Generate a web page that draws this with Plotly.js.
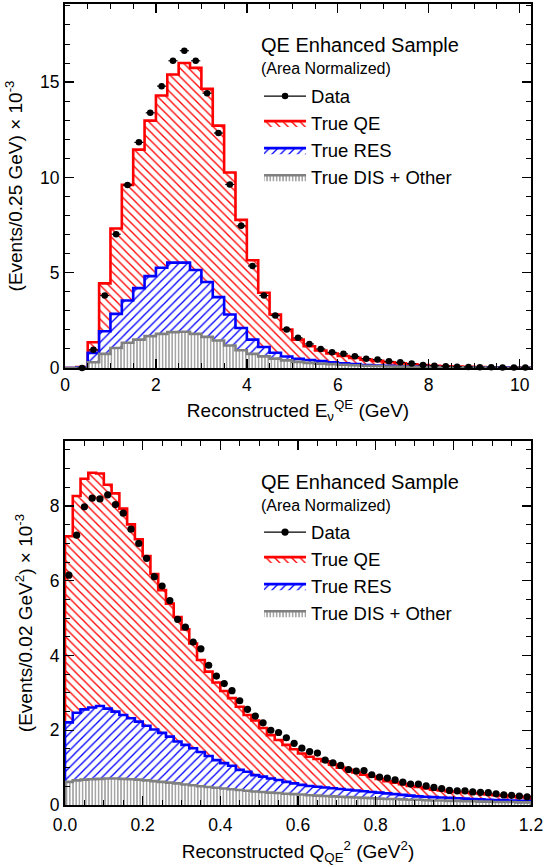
<!DOCTYPE html>
<html><head><meta charset="utf-8">
<script src="https://cdn.plot.ly/plotly-3.0.1.min.js"></script>
<style>html,body{margin:0;padding:0;background:#fff}</style>
</head><body>
<div id="chart" style="width:545px;height:867px"></div>
<script>
// ---------------- Top panel: Reconstructed E_nu^QE, 0.25 GeV bins from 0 ----------------
const enuBinStart = 0;
const enuBinWidth = 0.25;
const enuQE  = [0, 0.05, 1.35, 4.44, 7.32, 9.61, 11.46, 12.98, 14.30, 15.40, 16.00, 15.75, 14.65, 12.72, 10.26, 7.77, 5.65, 3.95, 2.81, 2.02, 1.49, 1.14, 0.92, 0.76, 0.63, 0.53, 0.44, 0.37, 0.30, 0.24, 0.19, 0.15, 0.12, 0.09, 0.07, 0.06, 0.05, 0.04, 0.03, 0.03, 0.02];
const enuRES = [0, 0.03, 0.79, 1.93, 2.84, 3.54, 4.19, 4.82, 5.26, 5.53, 5.53, 5.14, 4.51, 3.72, 2.81, 2.10, 1.49, 1.10, 0.80, 0.60, 0.48, 0.42, 0.36, 0.30, 0.25, 0.20, 0.16, 0.13, 0.11, 0.09, 0.07, 0.06, 0.05, 0.04, 0.035, 0.03, 0.025, 0.02, 0.02, 0.015, 0.01];
const enuDIS = [0, 0.01, 0.30, 0.74, 1.05, 1.32, 1.49, 1.67, 1.79, 1.88, 1.90, 1.79, 1.63, 1.44, 1.18, 0.93, 0.74, 0.61, 0.49, 0.40, 0.32, 0.27, 0.23, 0.20, 0.17, 0.14, 0.12, 0.10, 0.08, 0.07, 0.06, 0.05, 0.04, 0.035, 0.03, 0.025, 0.02, 0.015, 0.012, 0.01, 0.01];
// data points start at the second bin (0.25-0.5 GeV)
const enuDataFirstBin = 1;
const enuData = [0, 0.95, 3.80, 7.02, 9.60, 11.84, 13.39, 14.79, 16.12, 16.65, 16.12, 14.42, 12.33, 9.63, 7.46, 5.35, 3.80, 2.75, 2.02, 1.58, 1.26, 1.00, 0.82, 0.74, 0.61, 0.49, 0.44, 0.35, 0.30, 0.23, 0.16, 0.12, 0.09, 0.07, 0.05, 0.04, 0.04, 0.03, 0.02, 0.02];
const enuXTicks = [0, 2, 4, 6, 8, 10];
const enuYTicks = [0, 5, 10, 15];

// ---------------- Bottom panel: Reconstructed Q^2_QE, 0.02 GeV^2 bins from 0 ----------------
const q2BinStart = 0;
const q2BinWidth = 0.02;
const q2QE  = [7.19, 8.27, 8.73, 8.89, 8.87, 8.57, 8.34, 7.93, 7.51, 7.11, 6.66, 6.18, 5.75, 5.39, 5.03, 4.70, 4.32, 3.88, 3.57, 3.28, 3.05, 2.86, 2.63, 2.41, 2.26, 2.06, 1.87, 1.74, 1.61, 1.49, 1.38, 1.29, 1.23, 1.17, 1.08, 1.00, 0.94, 0.87, 0.81, 0.76, 0.70, 0.64, 0.60, 0.56, 0.51, 0.48, 0.44, 0.41, 0.39, 0.36, 0.35, 0.34, 0.32, 0.31, 0.28, 0.26, 0.25, 0.23, 0.22, 0.21];
const q2RES = [2.21, 2.47, 2.56, 2.61, 2.65, 2.58, 2.50, 2.41, 2.32, 2.23, 2.12, 2.02, 1.93, 1.83, 1.70, 1.61, 1.52, 1.42, 1.31, 1.20, 1.12, 1.05, 0.94, 0.89, 0.80, 0.76, 0.71, 0.67, 0.62, 0.58, 0.54, 0.51, 0.49, 0.47, 0.45, 0.43, 0.41, 0.39, 0.37, 0.35, 0.33, 0.31, 0.29, 0.27, 0.25, 0.23, 0.22, 0.21, 0.20, 0.19, 0.18, 0.17, 0.16, 0.15, 0.14, 0.13, 0.13, 0.12, 0.11, 0.11];
const q2DIS = [0.62, 0.66, 0.68, 0.69, 0.70, 0.71, 0.71, 0.70, 0.69, 0.68, 0.66, 0.64, 0.62, 0.60, 0.58, 0.55, 0.53, 0.50, 0.48, 0.46, 0.44, 0.42, 0.40, 0.38, 0.36, 0.35, 0.33, 0.32, 0.30, 0.29, 0.28, 0.26, 0.25, 0.24, 0.23, 0.22, 0.21, 0.20, 0.19, 0.18, 0.17, 0.16, 0.16, 0.15, 0.14, 0.14, 0.13, 0.12, 0.12, 0.11, 0.11, 0.10, 0.10, 0.09, 0.09, 0.08, 0.08, 0.08, 0.07, 0.07];
const q2DataFirstBin = 0;
const q2Data = [6.15, 7.22, 7.98, 8.21, 8.19, 8.30, 8.04, 7.81, 7.38, 7.00, 6.60, 6.11, 5.86, 5.47, 4.97, 4.76, 4.36, 4.18, 3.74, 3.45, 3.25, 3.06, 2.79, 2.56, 2.38, 2.20, 2.00, 1.94, 1.80, 1.65, 1.52, 1.43, 1.39, 1.20, 1.13, 1.06, 0.95, 0.91, 0.92, 0.81, 0.75, 0.72, 0.67, 0.61, 0.56, 0.56, 0.51, 0.47, 0.44, 0.39, 0.38, 0.38, 0.35, 0.34, 0.33, 0.30, 0.27, 0.26, 0.24, 0.22];
const q2XTicks = [0, 0.2, 0.4, 0.6, 0.8, 1.0, 1.2];
const q2YTicks = [0, 2, 4, 6, 8];

const legendNames = ['Data', 'True QE', 'True RES', 'True DIS + Other'];
const headerText = 'QE Enhanced Sample';
const subHeaderText = '(Area Normalized)';

// ---------------- helpers ----------------
const FONT = 'Liberation Sans, Arial, Helvetica, sans-serif';
const RED = '#ff0000', BLUE = '#0000ff', GREY = '#808080';

function edgesFor(start, width, n) {
  const e = [];
  for (let i = 0; i <= n; i++) e.push(+(start + i * width).toFixed(6));
  return e;
}
function stepXY(edges, vals) {
  const x = [edges[0]], y = [0];
  for (let i = 0; i < vals.length; i++) { x.push(edges[i]); y.push(vals[i]); }
  x.push(edges[vals.length]); y.push(vals[vals.length - 1]);
  x.push(edges[vals.length]); y.push(0);
  return {x, y};
}
function histTrace(edges, vals, name, color, shape, size, sol, xa, ya, leg, rank) {
  const s = stepXY(edges, vals);
  return {
    type: 'scatter', mode: 'lines', x: s.x, y: s.y, name: name,
    xaxis: xa, yaxis: ya, legend: leg, legendrank: rank,
    line: {shape: 'hv', color: color, width: 2.6},
    fill: 'tozeroy', fillcolor: color,
    fillpattern: {shape: shape, fgcolor: color, bgcolor: 'white', size: size, solidity: sol},
    hoverinfo: 'skip'
  };
}
function dataTrace(edges, firstBin, vals, halfW, msize, xa, ya) {
  const x = [], ex = [];
  for (let i = 0; i < vals.length; i++) {
    x.push((edges[firstBin + i] + edges[firstBin + i + 1]) / 2);
    ex.push(halfW);
  }
  return {
    type: 'scatter', mode: 'markers', x: x, y: vals, xaxis: xa, yaxis: ya,
    marker: {color: 'black', size: msize},
    error_x: {type: 'data', array: ex, color: 'black', thickness: 1.2, width: 0},
    showlegend: false, cliponaxis: false, hoverinfo: 'skip'
  };
}
function legendProxy(xa, ya, leg, msize) {
  return {type: 'scatter', mode: 'lines+markers', x: [null], y: [null], xaxis: xa, yaxis: ya,
    name: legendNames[0], legend: leg, legendrank: 1,
    line: {color: 'black', width: 1.2}, marker: {color: 'black', size: msize}};
}

const enuEdges = edgesFor(enuBinStart, enuBinWidth, enuQE.length);
const q2Edges = edgesFor(q2BinStart, q2BinWidth, q2QE.length);

const traces = [
  histTrace(enuEdges, enuQE, legendNames[1], RED, '\\', 6, 0.22, 'x', 'y', 'legend', 2),
  histTrace(enuEdges, enuRES, legendNames[2], BLUE, '/', 6, 0.22, 'x', 'y', 'legend', 3),
  histTrace(enuEdges, enuDIS, legendNames[3], GREY, '|', 3.2, 0.35, 'x', 'y', 'legend', 4),
  dataTrace(enuEdges, enuDataFirstBin, enuData, enuBinWidth * 0.4, 6.5, 'x', 'y'),
  legendProxy('x', 'y', 'legend', 6.5),
  histTrace(q2Edges, q2QE, legendNames[1], RED, '\\', 6, 0.22, 'x2', 'y2', 'legend2', 2),
  histTrace(q2Edges, q2RES, legendNames[2], BLUE, '/', 6, 0.22, 'x2', 'y2', 'legend2', 3),
  histTrace(q2Edges, q2DIS, legendNames[3], GREY, '|', 3.2, 0.35, 'x2', 'y2', 'legend2', 4),
  dataTrace(q2Edges, q2DataFirstBin, q2Data, q2BinWidth * 0.4, 7.2, 'x2', 'y2'),
  legendProxy('x2', 'y2', 'legend2', 7.2)
];

function axisBase(extra) {
  return Object.assign({
    showline: true, linecolor: 'black', linewidth: 2, mirror: 'allticks',
    ticks: 'inside', ticklen: 9, tickwidth: 1.3, tickcolor: 'black',
    showgrid: false, zeroline: false, fixedrange: true,
    tickfont: {family: FONT, size: 17.5, color: 'black'}
  }, extra);
}

const layout = {
  width: 545, height: 867,
  margin: {l: 65, r: 14, t: 4, b: 62},
  paper_bgcolor: 'white', plot_bgcolor: 'white',
  showlegend: true,
  font: {family: FONT, color: 'black'},
  xaxis: axisBase({anchor: 'y', domain: [0, 1], range: [0, 10.25], tickvals: enuXTicks, ticktext: enuXTicks.map(String),
    minor: {dtick: 0.5, ticklen: 5, tickwidth: 1, tickcolor: 'black', ticks: 'inside'},
    title: {text: 'Reconstructed E<sub>ν</sub><sup>QE</sup> (GeV)', standoff: 10, font: {family: FONT, size: 19, color: 'black'}}}),
  yaxis: axisBase({anchor: 'x', domain: [0.5456, 1], range: [0, 19.1], tickvals: enuYTicks, ticktext: enuYTicks.map(String),
    minor: {dtick: 1, ticklen: 5, tickwidth: 1, tickcolor: 'black', ticks: 'inside'},
    title: {text: '(Events/0.25 GeV) × 10<sup>-3</sup>', standoff: 12, font: {family: FONT, size: 19, color: 'black'}}}),
  xaxis2: axisBase({anchor: 'y2', domain: [0, 1], range: [0, 1.2], tickvals: q2XTicks, ticktext: q2XTicks.map(v => v.toFixed(1)),
    ticklabelstandoff: 3,
    minor: {dtick: 0.05, ticklen: 5, tickwidth: 1, tickcolor: 'black', ticks: 'inside'},
    title: {text: 'Reconstructed Q<sub>QE</sub><sup>2</sup> (GeV<sup>2</sup>)', standoff: 11, font: {family: FONT, size: 19, color: 'black'}}}),
  yaxis2: axisBase({anchor: 'x2', domain: [0, 0.4544], range: [0, 9.74], tickvals: q2YTicks, ticktext: q2YTicks.map(String),
    minor: {dtick: 0.5, ticklen: 5, tickwidth: 1, tickcolor: 'black', ticks: 'inside'},
    title: {text: '(Events/0.02 GeV<sup>2</sup>) × 10<sup>-3</sup>', standoff: 12, font: {family: FONT, size: 19, color: 'black'}}}),
  legend: {x: 0.4164, y: 0.9082, xanchor: 'left', yanchor: 'top', bgcolor: 'rgba(0,0,0,0)',
    font: {family: FONT, size: 18.5, color: 'black'}, itemwidth: 42, traceorder: 'normal', tracegroupgap: 0, itemclick: false, itemdoubleclick: false},
  legend2: {x: 0.4164, y: 0.3639, xanchor: 'left', yanchor: 'top', bgcolor: 'rgba(0,0,0,0)',
    font: {family: FONT, size: 18.5, color: 'black'}, itemwidth: 42, traceorder: 'normal', tracegroupgap: 0, itemclick: false, itemdoubleclick: false},
  annotations: [
    {xref: 'paper', yref: 'paper', x: 0.4163, y: 0.9488, xanchor: 'left', yanchor: 'middle', showarrow: false,
      text: headerText, font: {family: FONT, size: 20, color: 'black'}},
    {xref: 'paper', yref: 'paper', x: 0.4163, y: 0.9189, xanchor: 'left', yanchor: 'middle', showarrow: false,
      text: subHeaderText, font: {family: FONT, size: 16, color: 'black'}},
    {xref: 'paper', yref: 'paper', x: 0.4163, y: 0.4036, xanchor: 'left', yanchor: 'middle', showarrow: false,
      text: headerText, font: {family: FONT, size: 20, color: 'black'}},
    {xref: 'paper', yref: 'paper', x: 0.4163, y: 0.3733, xanchor: 'left', yanchor: 'middle', showarrow: false,
      text: subHeaderText, font: {family: FONT, size: 16, color: 'black'}}
  ]
};

Plotly.newPlot('chart', traces, layout, {staticPlot: true, displayModeBar: false});
</script>
</body></html>
